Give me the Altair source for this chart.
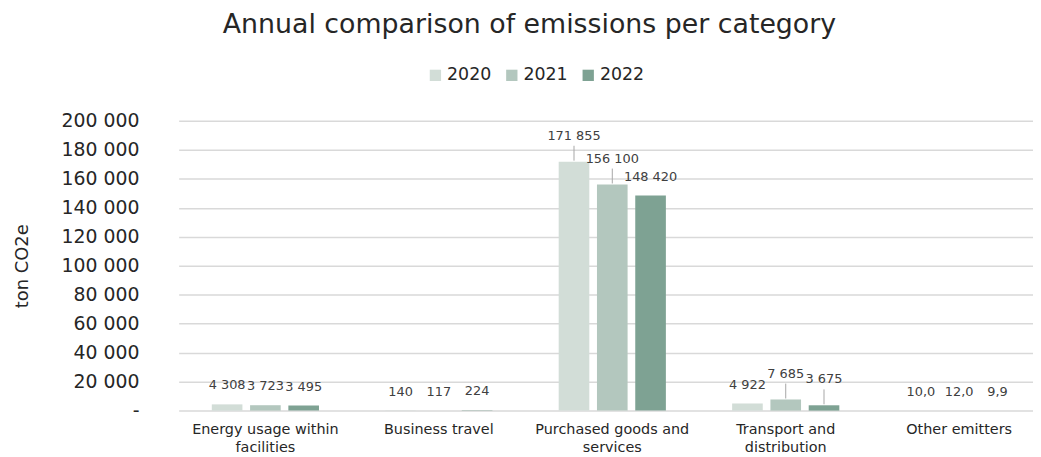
import altair as alt
import pandas as pd

categories = [
    "Energy usage within\nfacilities",
    "Business travel",
    "Purchased goods and\nservices",
    "Transport and\ndistribution",
    "Other emitters",
]
years = ["2020", "2021", "2022"]
values_2020 = [4308, 140, 171855, 4922, 10.0]
values_2021 = [3723, 117, 156100, 7685, 12.0]
values_2022 = [3495, 224, 148420, 3675, 9.9]
leader_2020 = [False, False, True, False, False]
leader_2021 = [False, False, True, True, False]
leader_2022 = [False, False, False, True, False]
y_ticks = list(range(0, 200001, 20000))
colors = ["#d2ddd7", "#b3c7be", "#7ea293"]


def fmt(v):
    if v < 100:
        return f"{v:.1f}".replace(".", ",")
    return f"{v:,.0f}".replace(",", " ")


rows = []
for y, vals, leads in zip(years, [values_2020, values_2021, values_2022],
                          [leader_2020, leader_2021, leader_2022]):
    for c, v, l in zip(categories, vals, leads):
        rows.append({"category": c, "year": y, "value": v, "label": fmt(v), "leader": l})
df = pd.DataFrame(rows)

FONT = "DejaVu Sans"
TXT = "#262626"

y_axis = alt.Axis(values=y_ticks, labelOverlap=False, tickCount=20,
                  labelExpr="datum.value == 0 ? '-' : replace(datum.label, ',', ' ')",
                  labelFontSize=19, labelColor=TXT, labelFont=FONT,
                  labelPadding=40, ticks=False, domain=False,
                  gridColor="#d9d9d9", gridWidth=1.5,
                  titleFontSize=18, titleFont=FONT, titleFontWeight="normal",
                  titleColor=TXT, titlePadding=30)

base = alt.Chart(df).encode(
    x=alt.X("category:N", sort=categories, title=None,
            scale=alt.Scale(paddingInner=0.382, paddingOuter=0.191, range=[0, 874]),
            axis=alt.Axis(labelExpr="split(datum.label, '\\n')", labelAngle=0,
                          labelFontSize=14.5, labelColor=TXT, labelFont=FONT,
                          labelPadding=12, labelLineHeight=18, ticks=False,
                          domain=False, grid=False, labelBaseline="top")),
    xOffset=alt.XOffset("year:N", sort=years,
                        scale=alt.Scale(paddingInner=0.2, paddingOuter=0)),
    y=alt.Y("value:Q", title="ton CO2e",
            scale=alt.Scale(domain=[0, 200000], nice=False), axis=y_axis),
)

bars = base.mark_bar().encode(
    color=alt.Color("year:N", sort=years,
                    scale=alt.Scale(domain=years, range=colors),
                    legend=alt.Legend(title=None, orient="none", direction="horizontal",
                                      legendX=250, legendY=-55,
                                      symbolType="square", symbolSize=130,
                                      symbolStrokeWidth=0,
                                      labelFontSize=17.5, labelFont=FONT,
                                      labelColor=TXT, columnPadding=11,
                                      labelOffset=3)),
)

labels_plain = base.transform_filter("!datum.leader").mark_text(
    dy=-19, fontSize=13, font=FONT, color="#404040"
).encode(text="label:N")

labels_lead = base.transform_filter("datum.leader").mark_text(
    dy=-26, fontSize=13, font=FONT, color="#404040"
).encode(text="label:N")

leaders = base.transform_filter("datum.leader").mark_rule(
    color="#a6a6a6", strokeWidth=1, yOffset=-1, y2Offset=-16
).encode(y2="value:Q")

chart = alt.layer(bars, leaders, labels_plain, labels_lead).properties(
    width=861, height=292,
    title=alt.TitleParams("Annual comparison of emissions per category",
                          fontSize=27, font=FONT, fontWeight="normal",
                          color=TXT, anchor="middle", dx=-77, offset=28),
    padding={"left": 172, "top": 112, "right": 0, "bottom": 45},
    autosize=alt.AutoSizeParams(type="none"),
).configure_view(stroke=None)

chart.save("out.html", embed_options={"renderer": "svg", "actions": False})
